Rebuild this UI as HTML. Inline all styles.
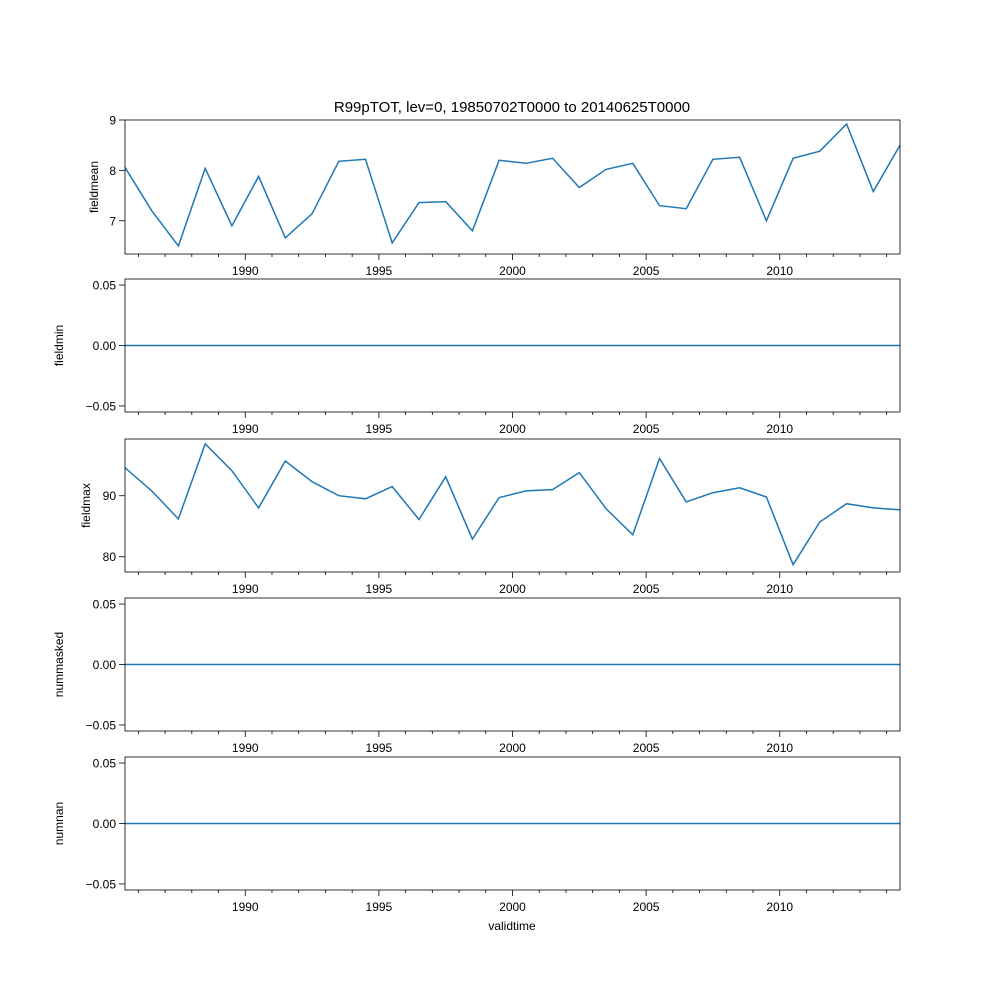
<!DOCTYPE html>
<html><head><meta charset="utf-8"><style>
body{margin:0;background:#fff;font-family:"Liberation Sans","DejaVu Sans",sans-serif}
</style></head><body>
<svg id="fig" width="1000" height="1000" xmlns="http://www.w3.org/2000/svg" font-family="Liberation Sans, DejaVu Sans, sans-serif"></svg>
<script>
const years=[1985.5,1986.5,1987.5,1988.5,1989.5,1990.5,1991.5,1992.5,1993.5,1994.5,1995.5,1996.5,1997.5,1998.5,1999.5,2000.5,2001.5,2002.5,2003.5,2004.5,2005.5,2006.5,2007.5,2008.5,2009.5,2010.5,2011.5,2012.5,2013.5,2014.5];
const fieldmean=[8.06,7.2,6.5,8.04,6.9,7.88,6.66,7.14,8.18,8.22,6.56,7.36,7.38,6.8,8.2,8.14,8.24,7.66,8.02,8.14,7.3,7.24,8.22,8.26,7.0,8.24,8.38,8.92,7.58,8.5];
const fieldmin=[0,0,0,0,0,0,0,0,0,0,0,0,0,0,0,0,0,0,0,0,0,0,0,0,0,0,0,0,0,0];
const fieldmax=[94.6,90.8,86.2,98.5,94.1,88.0,95.7,92.3,90.0,89.5,91.5,86.1,93.1,82.9,89.7,90.8,91.0,93.8,87.9,83.6,96.1,89.0,90.5,91.3,89.8,78.7,85.7,88.7,88.0,87.7];
const nummasked=[0,0,0,0,0,0,0,0,0,0,0,0,0,0,0,0,0,0,0,0,0,0,0,0,0,0,0,0,0,0];
const numnan=[0,0,0,0,0,0,0,0,0,0,0,0,0,0,0,0,0,0,0,0,0,0,0,0,0,0,0,0,0,0];
const xTickLabels=["1990","1995","2000","2005","2010"];
const fmtS=v=>v.toFixed(2).replace("-","−");
const panels=[
 {name:"fieldmean",data:fieldmean,top:120,bot:254,ymin:6.34,ymax:9.0,ticks:[7,8,9],fmt:v=>String(v),lx:94},
 {name:"fieldmin",data:fieldmin,top:279,bot:412,ymin:-0.055,ymax:0.055,ticks:[-0.05,0,0.05],fmt:fmtS,lx:59},
 {name:"fieldmax",data:fieldmax,top:439,bot:572,ymin:77.5,ymax:99.3,ticks:[80,90],fmt:v=>String(v),lx:86},
 {name:"nummasked",data:nummasked,top:598,bot:731,ymin:-0.055,ymax:0.055,ticks:[-0.05,0,0.05],fmt:fmtS,lx:59},
 {name:"numnan",data:numnan,top:757,bot:890,ymin:-0.055,ymax:0.055,ticks:[-0.05,0,0.05],fmt:fmtS,lx:59}
];
const L=125,R=900,X0=1985.5,X1=2014.5;
const NS="http://www.w3.org/2000/svg";
const svg=document.getElementById("fig");
function mk(tag,attrs,parent){const e=document.createElementNS(NS,tag);for(const k in attrs)e.setAttribute(k,attrs[k]);(parent||svg).appendChild(e);return e;}
const xs=v=>L+(v-X0)/(X1-X0)*(R-L);
const t=mk("text",{x:512,y:112,"text-anchor":"middle","font-size":"15"});t.textContent="R99pTOT, lev=0, 19850702T0000 to 20140625T0000";


panels.forEach(p=>{
 const g=mk("g",{});
 
 
 const ys=v=>p.bot-(v-p.ymin)/(p.ymax-p.ymin)*(p.bot-p.top);
 for(let y=1986;y<=2014;y++){
  const major=(y%5===0);const x=xs(y);
  mk("line",{x1:x,x2:x,y1:p.bot,y2:p.bot+(major?6:3),stroke:"#000","stroke-width":"0.8"},g);
 }
 xTickLabels.forEach(s=>{const tx=mk("text",{x:xs(+s),y:p.bot+21,"text-anchor":"middle","font-size":"12"},g);tx.textContent=s;
  
  });
 p.ticks.forEach(v=>{const y=ys(v);
  mk("line",{x1:L-6,x2:L,y1:y,y2:y,stroke:"#000","stroke-width":"0.8"},g);
  const tx=mk("text",{x:L-9,y:y+4.5,"text-anchor":"end","font-size":"12"},g);tx.textContent=p.fmt(v);
  
  });
 const yl=mk("text",{x:0,y:0,"text-anchor":"middle","font-size":"12",transform:`translate(${p.lx+4},${(p.top+p.bot)/2}) rotate(-90)`},g);
 yl.textContent=p.name;
 
 
 const pts=years.map((yr,i)=>xs(yr).toFixed(1)+","+ys(p.data[i]).toFixed(1)).join(" ");
 const ln=mk("polyline",{points:pts,fill:"none",stroke:"#1f77b4","stroke-width":"1.5"},g);
 
 
 const fr=mk("rect",{x:L,y:p.top,width:R-L,height:p.bot-p.top,fill:"none",stroke:"#000","stroke-width":"0.8"},g);
 
 
});
const xl=mk("text",{x:512,y:930,"text-anchor":"middle","font-size":"12"});xl.textContent="validtime";


</script>
</body></html>
